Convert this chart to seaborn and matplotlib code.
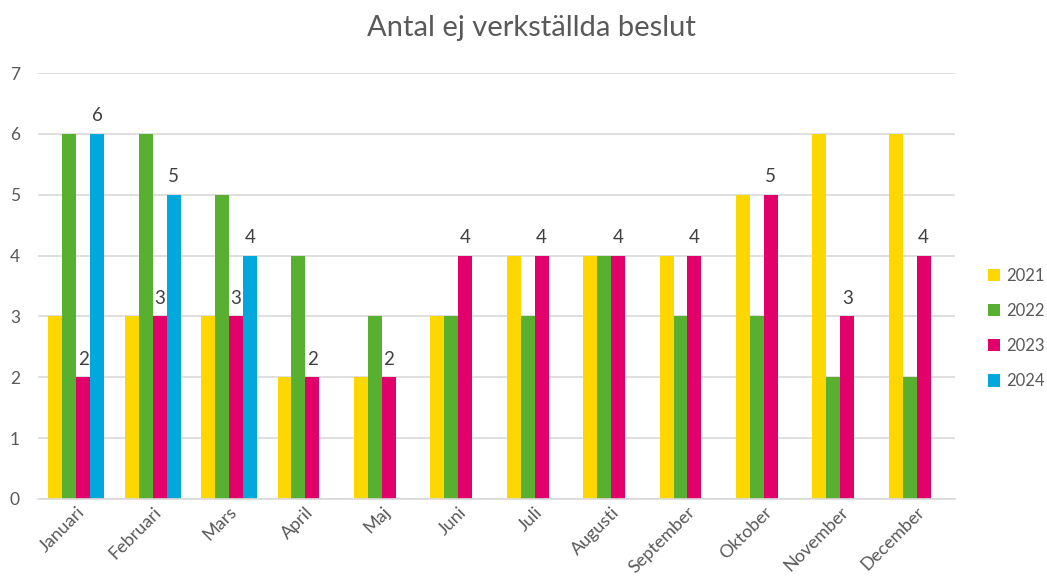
import numpy as np
import matplotlib.pyplot as plt
import pandas as pd
import seaborn as sns

months = ['Januari', 'Februari', 'Mars', 'April', 'Maj', 'Juni', 'Juli',
          'Augusti', 'September', 'Oktober', 'November', 'December']
years = ['2021', '2022', '2023', '2024']
v2021 = [3, 3, 3, 2, 2, 3, 4, 4, 4, 5, 6, 6]
v2022 = [6, 6, 5, 4, 3, 3, 3, 4, 3, 3, 2, 2]
v2023 = [2, 3, 3, 2, 2, 4, 4, 4, 4, 5, 3, 4]
v2024 = [6, 5, 4, np.nan, np.nan, np.nan, np.nan, np.nan, np.nan, np.nan, np.nan, np.nan]
colors = ['#FFD700', '#58B031', '#E2006A', '#00A8DC']

rows = []
for year, vals in zip(years, [v2021, v2022, v2023, v2024]):
    for m, v in zip(months, vals):
        rows.append({'Månad': m, 'År': year, 'Antal': v})
df = pd.DataFrame(rows)

sns.set_style('white')
plt.rcParams['font.family'] = ['Lato', 'DejaVu Sans']
text_col = '#595959'

fig = plt.figure(figsize=(10.47, 5.86), dpi=100)
ax = fig.add_axes([0.0363, 0.1485, 0.8757, 0.7269])

sns.barplot(data=df, x='Månad', y='Antal', hue='År', order=months, hue_order=years,
            palette=colors, width=0.73, gap=0, saturation=1, errorbar=None,
            linewidth=0, ax=ax)

# etiketter bara för 2023 och 2024
for i, cont in enumerate(ax.containers):
    if i >= 2:
        labels = ['' if np.isnan(v) else f'{int(v)}' for v in cont.datavalues]
        ax.bar_label(cont, labels=labels, padding=7, fontsize=13.5, color='#404040')

ax.set_ylim(0, 7)
ax.set_yticks(range(8))
ax.set_xlim(-0.5, 11.5)
ax.yaxis.grid(True, color='#D9D9D9', linewidth=1.2)
ax.set_axisbelow(True)
for s in ['top', 'right', 'left']:
    ax.spines[s].set_visible(False)
ax.spines['bottom'].set_color('#D9D9D9')
ax.spines['bottom'].set_linewidth(1.2)
ax.tick_params(axis='y', length=0, labelsize=12.5, colors=text_col, pad=13)
ax.tick_params(axis='x', length=0, labelsize=13, colors=text_col)
plt.setp(ax.get_xticklabels(), rotation=45, ha='right', rotation_mode='anchor')
ax.set_xlabel('')
ax.set_ylabel('')

fig.suptitle('Antal ej verkställda beslut', fontsize=21, color=text_col, x=0.508, y=0.975)

ax.legend(title=None, loc='center left', bbox_to_anchor=(1.036, 0.4), frameon=False,
          borderaxespad=0, borderpad=0, fontsize=12, handlelength=0.75, handleheight=0.75,
          handletextpad=0.35, labelspacing=1.15, labelcolor=text_col)

fig.savefig('out.png', dpi=100)
